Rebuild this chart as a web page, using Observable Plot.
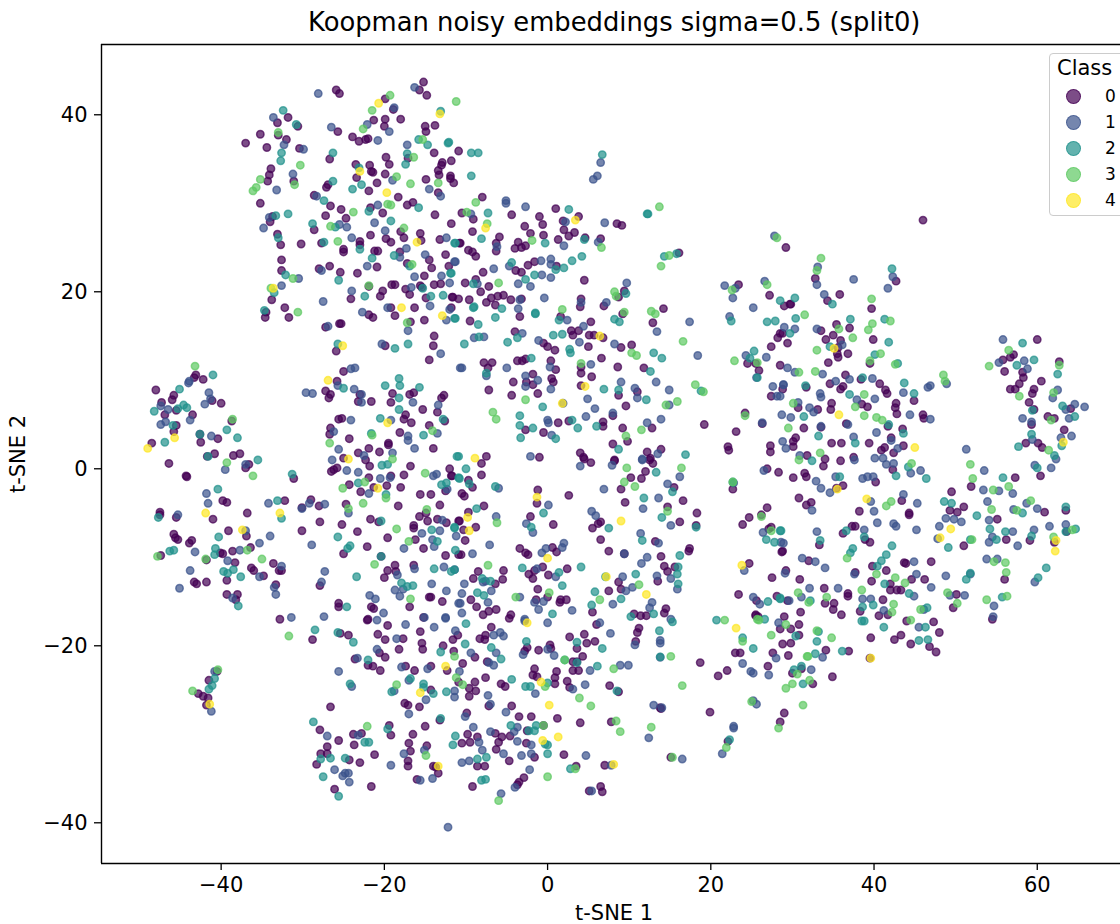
<!DOCTYPE html>
<html><head><meta charset="utf-8">
<script src="https://cdn.jsdelivr.net/npm/d3@7"></script>
<script src="https://cdn.jsdelivr.net/npm/@observablehq/plot@0.6"></script>
<style>
html,body{margin:0;padding:0;background:#fff;overflow:hidden;width:1120px;height:924px}
#root{position:relative;width:1120px;height:924px;overflow:hidden;font-family:"DejaVu Sans",sans-serif;color:#000}
#root svg{position:absolute;left:0;top:0}
.t{position:absolute;white-space:nowrap;line-height:1}
</style></head><body><div id="root"></div>
<script>
const titleText = "Koopman noisy embeddings sigma=0.5 (split0)";
const xLabel = "t-SNE 1", yLabel = "t-SNE 2", legendTitle = "Class";
const classLabels = ["0","1","2","3","4"];
const classColors = ["#440154","#3b528b","#21918c","#5ec962","#fde725"];
const xTicks = [-40,-20,0,20,40,60];
const yTicks = [-40,-20,0,20,40];
const xDomain = [-54.66,70.2];
const yDomain = [-44.6,47.94];

const class0 = [
[-37,36.8],[-35.2,37.8],[-34.4,36.3],[-33.1,39.1],[-31.8,39.7],[-33,37.7],[-30.6,38.7],[-32,37.2],[-30.4,36.2],[-33.9,33.9],[-34.1,33.2],[-34.3,32.5],[-31.1,32.5],[-35.2,30],[-25.9,42.8],[-25.5,42.4],[-25.7,38.1],[-23.9,37.5],[-23.1,37],[-22.3,37.2],[-22,37.3],[-19.9,41.8],[-18.9,40.6],[-21.3,39.4],[-19.9,39.5],[-18,39.5],[-20,38.7],[-15.7,42.8],[-15.2,43.7],[-14.8,42.2],[-15,38.7],[-14.9,38.1],[-13.8,38.8],[-10.9,35.9],[-13.9,35.7],[-19.8,35.2],[-19.4,34.4],[-17.1,35.1],[-26.7,35],[-23.5,34.4],[-21.8,34.3],[-21.6,33.6],[-21.4,33.5],[-23.4,32.9],[-19.9,33.3],[-20.9,32.3],[-14.9,32.7],[-12.9,34.6],[-11.8,34.8],[-13,34.3],[-13.4,33.7],[-13.3,33.2],[-11.9,33.1],[-11.9,32.8],[-11.5,32.3],[-26.9,32.1],[-27.1,31.8],[-21.9,31.4],[-28.6,30.9],[-18.3,30.7],[-13.4,31.2],[-17.2,29.8],[-16.5,30.1],[-26.6,29.7],[-25.3,29.3],[-21.7,29.5],[-20.2,28.9],[-27.2,28.6],[-24.7,28.3],[-13.8,28.7],[-11.8,27.7],[-34,27.9],[-33.7,28.5],[-33.1,26.5],[-32.7,25.3],[-30.2,25.4],[-28.6,27],[-21.7,26.4],[-18,26.8],[-17.6,26.1],[-15.6,26.6],[-15.5,25.8],[-13.2,25.9],[-10.8,25.5],[-19.8,26],[-19.2,25.6],[-27.7,25.5],[-23,25.7],[-23,25.3],[-25,24.8],[-25,24.5],[-21.2,24.6],[-20.8,24.6],[-18.1,24.5],[-12.5,24.2],[-14.5,23.6],[-17.2,23.2],[-14.2,22.7],[-12.1,22.9],[-32.6,23.6],[-32.6,22.4],[-28,22.6],[-26.7,22.9],[-25.4,22.2],[-23.3,22.1],[-20.9,22.8],[-15.1,21.8],[-13.1,20.9],[-13.9,20.8],[-19.1,20.8],[-18.7,20.8],[-15.6,20.7],[-15.4,20.5],[-17.4,20.3],[-21.9,20.6],[-20.2,20.1],[-20.5,19.5],[-16.9,19.7],[-14.9,19.3],[-11.7,19.4],[-10.9,19.2],[-33.8,19.1],[-24.1,19.2],[-34.5,17.7],[-34.6,17.1],[-32.2,18.2],[-31.7,17.1],[-19.2,18.2],[-16.3,18.2],[-21.9,17.4],[-21.4,17.1],[-18.7,17.3],[-16.8,16.6],[-15.1,16.8],[-27.2,16],[-25.5,16.4],[-25.3,16.4],[-13.9,15],
[-8,30.7],[-10.5,28.9],[-9.1,28.2],[-9.2,26.8],[-4.4,28.7],[-1,28.5],[1,29.4],[-0.6,27.6],[-2.8,27.4],[-2.1,26.6],[-0.5,26.4],[1.9,28],[3.8,28.5],[2,27],[3.3,26.7],[2.6,26.3],[1.3,25.9],[4.6,26.1],[6.5,26],[8.5,27.7],[9.1,27.5],[-5.9,26.2],[-6.3,25.5],[-6.3,24.6],[-10.7,25.5],[-3.6,25.6],[-4,24.9],[-3.2,25],[-2.7,25.2],[-9.7,24.7],[-9.2,24.5],[-8.8,24],[-2.4,23],[-1.6,23.4],[-3.9,22.4],[-3.2,22.2],[1.1,22.9],[-7.9,22.2],[-10.1,21],[-8.8,21.4],[-7.2,20.6],[-8.2,20],[-5.4,19.6],[-6.1,19.5],[-6.9,19.3],[-4.5,19.1],[-3.2,19.2],[-11.6,19.4],[-9.6,19.1],[-7.5,18.8],[-6.4,18.5],[-11.8,18.2],[-3.4,17.2],[-9.5,16.7],[4.5,21.3],[4.1,19.2],[4,18.3],[6.9,18.4],[1.6,17.2],[9.4,20.1],[8.7,19.4],[9.2,17.5],[14.2,18.1],[12.9,16.5],[5.3,16.6],[3.8,15.6],[2.9,15.6],[3.1,15.1],[5.1,15.1],[5.7,15.1],[6.8,14.8],[-4,15.5],[-0.5,14.2],[0,13.8],[0.9,13.4],[5,13.8],[10.3,14],[9,13.7],[6.6,12.5],[-7.8,12],[-6.8,12],[-7.3,11.4],[-3.7,12.2],[-3.1,12.2],[-2.7,12.4],[0.4,12.2],[1,11.2],[4.1,11.5],[4.1,10.8],[5.4,10.4],[8.6,11.5],[11.8,11.4],[-1.8,10.7],[-4.2,9.8],[-2.6,9.8],[-1.8,9.5],[0.5,10.2],[0.7,9.8],[4.1,9.4],[-7.2,8.9],[-4.4,8.3],[-1.2,8.5],[8.7,8.3],[11,8.7],[9.6,7.1],[1.3,5.2],[2.6,5.4],[6.8,5.3],[6.8,4.8],[8,6],[-2.7,4.4],[-0.5,4.1],[9.2,4.6],[12.8,4.6],[19.2,5],[8,2.8],[9.8,3.1],[23.1,4.2],[24.2,6.3],[26.3,5.1],[16.1,24.4],[23.4,20.8],[29.2,25],[27.2,19.6],[29,18.4],[29.7,18.6],[28.5,15.3],[28.2,14.8],[27.4,13.8],[24.5,11.9],[25.5,11.9],[25.9,11.1],[28.5,11.7],[27.4,8.2],[28.8,9],[22.1,2.5],[22.2,2.1],[27.3,2.6],[27.3,1.9],[4,1.8],[4.4,1.3],[-1,1.3],[-7.5,1.4],[8.2,1],[12.2,1.9],[13.9,2.2],[12.6,1.2],
[-48,8.9],[-43.1,10.6],[-43.3,10.3],[-42.2,10.1],[-45.8,8.3],[-46,7.8],[-47.3,7.5],[-45.5,6.6],[-46.9,6.1],[-43.5,6.1],[-41.1,7.7],[-40,7.4],[-38.7,5.4],[-45.5,4.9],[-45.8,4.2],[-42.6,3.9],[-42.5,3],[-40.4,3.4],[-48.5,2.9],[-40.8,1.7],[-41.7,1.4],[-38.5,1.5],[-37.7,1.7],[-46.4,0.6],[-44.3,-0.8],[-44.2,-0.9],[-36.6,0.5],[-37,0.1],[-31.1,-1.1],[-39.8,-3.6],[-39.3,-3.8],[-47.5,-4.9],[-47.5,-5.2],[-45.5,-5.5],[-41,-5.7],[-36.8,-5],[-32.2,-3.6],[-30.1,-4.4],[-29,-3.5],[-28,-4.2],[-27.9,-6],[-30.1,-7],[-39.1,-7],[-45.8,-7.4],[-45.6,-7.8],[-45.3,-8],[-43.6,-8.1],[-43.9,-8.4],[-36.9,-7.6],[-36.4,-8.9],[-47.4,-9.8],[-40.1,-9.5],[-39.8,-9.6],[-38.6,-9.3],[-41.8,-10.3],[-38.3,-10.6],[-36.3,-11.2],[-36,-11.5],[-33.6,-10.7],[-32.9,-11.5],[-32.6,-11.5],[-34.8,-12.1],[-39.3,-12.6],[-43.3,-12.8],[-43,-13],[-41.8,-12.8],[-33.3,-13.1],[-27.9,-13.2],[-39.3,-14.2],[-38,-14.2],[-38.2,-14.8],
[-25.9,13.3],[-14,13.9],[-19.9,13.9],[-14.5,12.3],[-25,11],[-25.8,9.9],[-27.2,8.8],[-26.6,8.4],[-26.8,8],[-23,8.4],[-23.2,7.6],[-21.6,7.6],[-19.2,7.5],[-19,8.5],[-16.9,8.4],[-16.4,8.6],[-12.7,8.3],[-13,8],[-15.3,6.7],[-13.5,6.4],[-17.4,6.1],[-17.6,5.6],[-16.7,5.2],[-25.6,5.6],[-25.2,5.7],[-26.6,4.6],[-26.7,3.9],[-24.3,3.4],[-18.1,4.1],[-14.5,4.9],[-12.6,5.4],[-19.5,2.9],[-19.5,2.7],[-23.2,1.8],[-21.9,2.3],[-20.6,1.9],[-14,2.3],[-22.3,1],[-25,1.2],[-21.8,0.3],[-16.8,0.3],[-25.8,0.1],[-26.5,-0.3],[-26.2,-0.1],[-12,0],[-11.8,-0.8],[-19.2,-0.8],[-17.6,-0.7],[-21.9,-1],[-24.3,-1.8],[-22.9,-2.6],[-21.3,-2.1],[-19.7,-1.9],[-18,-2.1],[-15.6,-2.9],[-14.3,-2.9],[-12.5,-2.5],[-18.3,-4.2],[-13.2,-4.1],[-24.7,-4],[-15.7,-5.4],[-14.9,-5],[-14.7,-5.9],[-13.5,-5.7],[-12.4,-6.1],[-10.9,-5.9],[-21.7,-5.7],[-20.7,-6],[-25.2,-6.3],[-16.4,-6.4],[-16.4,-6.7],[-23.3,-7.1],[-19.6,-7.8],[-16.2,-8],[-22.1,-8.8],[-25,-9.6],[-15.2,-9],[-12.5,-9.8],[-10.9,-9.7],[-20.4,-9.9],[-18.7,-10.9],[-16.4,-10.9],[-19.6,-11.5],[-18.6,-11.6],[-20,-12.3],[-14.3,-14.5],[-14.5,-14.5],[-12.9,-15],[-25.6,-15.2],[-25.6,-15.6],[-21.6,-15.6],[-21.3,-15.8],[-16.9,-15.6],[-32.8,-17],[-22,-17],[-15.2,-16.8],
[-41.5,-23.9],[-40.5,-22.9],[-42.8,-25.4],[-42.2,-25.7],[-41.6,-25.9],[-41.8,-26.7],
[-8.1,-0.7],[-8.1,0.6],[-11.7,-0.8],[-9.7,-1.3],[-9.2,-2.1],[-10.5,-2.8],[-10.2,-3.1],[-7.8,-4.2],[-9.7,-4.9],[-10.8,-5.9],[-10.3,-6.9],[-8.8,-6.6],[-10.1,-8.1],[-10.6,-9.7],[-1.2,-2.4],[-1.3,-3.9],[2.6,-3],[-2.1,-5.4],[0.7,-6.3],[-3.4,-9],[-2.7,-9.5],[-2.4,-9.7],[0.6,-8.9],[1.1,-9.4],[-0.6,-11.1],[2.4,-11.3],[-1.6,-11.5],[-2.3,-11.9],[-1.8,-12.4],[0.1,-12],[-5.4,-11.5],[-8.5,-11.6],[-9.1,-12.4],[-5.5,-12.5],[-6.4,-13],[-1.2,-13.6],[-9.4,-14.8],[-8.7,-15.6],[-7.9,-16.5],[-7.2,-16.1],[-6.3,-15.9],[-4.5,-16.5],[-4.7,-16.9],[0,-14.5],[-1.4,-14.8],[1.6,-14.8],[1.5,-15.1],[2.3,-14.8],[5.5,-16.2],[4.5,1.1],[5.3,0.7],[8.2,0.9],[12.5,1],[12.9,0.6],[12,-0.3],[11.5,-1.1],[10.2,-1],[9,-2.3],[15.5,-2.1],[9.5,-3.8],[16.6,-3.6],[14.7,-4.3],[18.3,-5],[16.2,-6],[18.2,-6.4],[6.5,-6],[6.2,-6.2],[5.5,-6.7],[6.5,-8],[13.2,-8.2],[7.5,-9.3],[17.4,-9],[17.3,-9.3],[13.9,-9.9],[9.4,-9.6],[15.6,-11.1],[14.3,-11],[14.7,-11.6],[13.5,-12.7],[8.7,-12.8],[9,-13.6],[7.5,-13.8],[24.7,-10.7],[28.3,-0.4],[26.9,0],[22.7,-2.3],[26.9,-4.4],[24.7,-5.5],[26.2,-5.2],[23.9,-6.3],[27.4,-6.6],[27.1,-6.8],[28.7,-9.4],[27.5,-12.3],[23.4,-14.2],[28.1,-14.4],[25.6,-14.9],[29.4,-14.9],[25.5,-16.5],[14.3,-16.3],[14.5,-15.8],[10.6,-16.4],[11.4,-16.6],[12.1,-16.6],
[-19.6,-17.7],[-20.8,-18.7],[-19.9,-19.3],[-24.4,-18.8],[-25.4,-18.6],[-28.8,-19.3],[-22.1,-17.1],[-17.7,-19.2],[-15.6,-18.4],[-15.4,-19.7],[-15.3,-20.4],[-18.2,-20.4],[-20.6,-20.8],[-19.9,-21.3],[-23.6,-21.5],[-22,-22.2],[-21.4,-22.3],[-20.5,-22.8],[-17.4,-22.3],[-16.3,-22.8],[-14.3,-22.3],[-12.8,-20],[-11.6,-19.3],[-11,-18.8],[-11.5,-20.6],[-8.3,-19.2],[-7.7,-19.3],[-7.6,-18.8],[-6.9,-17.9],[-2.5,-20.2],[-2.8,-20.6],[-1.1,-20.5],[0.3,-19.9],[0.4,-20.3],[2.7,-19],[4.5,-18.7],[3.6,-20.3],[4.8,-19.7],[5.8,-19.5],[6,-17.6],[4.3,-21.2],[3.1,-21.8],[3.6,-21.8],[3.1,-22.8],[3.8,-22.8],[-8.9,-21.3],[-10.4,-22],[-7.4,-21.8],[-12.3,-22.8],[-7.6,-23.6],[-8.9,-24.1],[-8.8,-25.1],[-9.6,-24.8],[-9.6,-25.7],[-10.9,-24.1],[-5.7,-24.3],[-5.2,-24.6],[-1.6,-22.6],[-1.8,-23.3],[-1.3,-23.5],[1.1,-22.9],[0.9,-23.6],[0.9,-24.3],[2.4,-24],[2.7,-24.7],[7.6,-24.5],[8.7,-25.2],[-14.3,-25],[-17.5,-26.5],[-17.1,-26.7],[-15.7,-26.9],[-26.6,-26.9],[-7.2,-26.8],[-4.4,-26.8],[-9.9,-27.6],[-3.5,-28],[-2,-28],[1.2,-28.2],[4,-28.7],[7.8,-28.6],[-13.2,-28.4],[-15,-29.1],[-19.4,-29],[-19.2,-30.1],[-27.9,-29.5],[-22.8,-29.9],[-23.8,-30],[-25.6,-30.7],[-23.7,-31.2],[-27,-31.4],[-27,-32.2],[-27.8,-32.2],[-28.3,-33.4],[-21.2,-32.3],[-24.3,-32.9],[-23,-33.2],[-17,-31],[-16.5,-30],[-16.8,-31.9],[-14.8,-31.3],[-17.1,-33],[-17.1,-33.6],[-14,-33.6],[-13.7,-33.7],[-13.4,-34.4],[-16,-35.1],[-21.6,-35.9],[-26.1,-36.2],[-9.2,-35.9],[-10.5,-31],[-9.8,-30],[-9.5,-30.9],[-8.6,-30.3],[-6.4,-29.9],[-5.6,-30.3],[-4.6,-30.2],[-6,-30.9],[-6.3,-31.7],[-2.6,-31],[-2.5,-29.6],[-0.5,-29],[2,-32.3],[-1.6,-32.6],[-4.7,-33],[-8.6,-33.6],[-7.7,-33.6],[3.5,-33.6],[7,-33.5],[-2.9,-34.9],[-3.5,-35.4],[-3.7,-35.7],[6.5,-35.9],[6.7,-36.5],[5.1,-36.4],
[11.2,-18],[11,-18.5],[10.8,-19.5],[18.7,-21.9],[22,-22.8],[20.9,-23.4],[23,-20.8],[23.6,-20.8],[25.5,-16.6],[25.8,-16.7],[28.5,-18.1],[27.6,-20.8],[27,-22.3],[30,-23.1],[31.1,-22.6],[32.5,-24.3],[34.9,-23.5],[13.8,-27],[13.9,-27.1],[19.9,-27.5],[29,-27.6],[28.5,-28.6],[15.1,-32.6],[22.1,-30.8],
[33.5,15.6],[35.4,16.3],[37,15.9],[35,15.1],[34.1,14.6],[39.9,14.6],[29.4,14.2],[28.8,15.3],[35.9,14.5],[35.6,13.7],[35.5,13],[35.6,12.6],[36.8,13],[34.4,12],[39.5,11.9],[36.5,10.6],[34.6,9.6],[38.4,10.1],[35.9,9],[36.2,9.3],[31.7,9.2],[40.7,9.6],[41.4,8.9],[41.6,8.5],[44.9,7.7],[42.7,7.4],[42.6,6.9],[42.8,6.2],[46,6.1],[46.1,5.7],[34.8,7.4],[34.7,6.7],[33.1,6.7],[30.7,6.9],[38.5,7.3],[39.2,7],[36.6,5.1],[31.4,4.6],[33.5,4.7],[41.7,4.8],[43.5,4.5],[42.1,3.5],[30.4,3.5],[30.1,3.1],[30.1,2.5],[34.8,2.9],[36,2.9],[39.4,2.9],[41.3,2.4],[40.9,2.1],[43.6,2.6],[42.4,1.8],[31.8,1.5],[34,1.1],[33.8,0.3],[35.9,0.9],[37.5,1.3],[42.3,-0.1],[31.5,-0.5],[31.7,-0.9],[30.1,-1],[40.2,-1.5],[36.2,-1.9],[35.4,-2.2],[30.8,-3.3],[32.3,-3.8],[31.7,-4.1],[43.4,-3.6],[38.2,-4.8],[44.3,-5],[44.3,-5.2],[37.3,-6.5],[37.7,-6.5],[36.2,-7.3],[38.9,-8],[39.5,-8.3],[33.3,-8.6],[28.8,-9.3],[32,-10.4],[29.2,-11.5],[30.9,-12.5],[33.9,-13.5],[39.7,-12.7],[39.8,-11],[37.7,-11.7],[41.5,-11.5],[43.7,-10.6],[43.9,-10.7],[47,-10.5],[44.6,-12.5],[46.2,-12.5],[42,-13],[42,-13.7],[42.8,-13.7],[43.3,-13.7],[36.8,-14.1],[36.8,-14.4],[41.1,-14.8],[50.1,-14.2],[49.7,-15.7],[35.1,-15.2],[34,-15.2],[35,-15.9],[36,-16.5],[38.3,-16.1],[40.6,-16.6],[41.7,-16.5],[44,-17.2],[47.3,-17.3],[31,-16.2],[29,-16.7],[30.8,-17.6],[29.8,-18.1],[30.8,-18.8],[29.8,-19.7],[28.8,-19.8],[34.1,-20.5],[29.5,-21.1],[36.9,-20.6],[39.6,-19.1],[39.5,-21.4],[42.5,-19.3],[43.3,-18.8],[44.5,-19.8],[46.8,-20.1],[47.6,-20.7],[48,-18.5],[54.5,-17],[56,-12.5],
[60,14.6],[57.1,12.9],[56.7,12.6],[55.8,12.3],[56,11],[58.2,10.9],[58.3,10.3],[57.8,9.6],[57.3,9],[56.7,9],[60.5,9.9],[59.6,9],[59.4,8.5],[62.7,12.1],[59,7.5],[59.6,6.7],[64.1,6.8],[61.3,5.9],[62.1,5.7],[59.3,5],[63.3,4.4],[58.6,2.9],[60.1,2.9],[60.6,2.4],[60.4,-0.8],[57.3,-1],[51.9,-2],[49.5,-2.6],[51,-4.3],[49.3,-4.7],[50.2,-4.9],[55.1,-5.7],[60.9,-4.9],[63.5,-4.7],[63.6,-7.1],[56.2,-8],[59.1,-8.1],[62.1,-8.3],[51,-8.7],
[46,28.1],[32.8,21.5],[34.3,19],[35.8,19.7],[42.7,21.2],[39.7,18.1],[29.8,18.6]
];
const class1 = [
[-28.1,42.4],[-16.3,43.1],[-18.8,40.8],[-33.6,39.7],[-26.5,38.6],[-22.1,38.9],[-19.4,38.1],[-20.8,37.1],[-17.2,36.6],[-32.3,36.6],[-29.9,36.1],[-31.2,33.3],[-19,32.6],[-33.2,31.5],[-14.5,31.6],[-13.1,30.8],[-28.3,30.8],[-20.8,29.8],[-25.5,27.6],[-24.6,27.3],[-21.2,27.8],[-34.1,28.4],[-34.8,27.2],[-24,26.1],[-19.9,26.9],[-12.4,26.1],[-17.3,24.9],[-15,24.2],[-18.1,23.9],[-11.3,23.4],[-27.7,22.4],[-22.1,22.9],[-16.3,21.7],[-13,21.8],[-12,21],[-30.5,21.5],[-32.6,20.7],[-24,20.1],[-16.7,20.5],[-27.5,18.9],[-14.4,18.4],[-19.6,18.2],[-22.7,17.7],[-12,18],[-12.4,16.8],[-26.9,16.1],[-17.1,15.6],
[6.5,34.6],[6.1,33.1],[5.6,32.7],[-5.1,30.3],
[-5.1,30],[-2.7,29.6],[-9.4,28.8],[2.2,27.9],[7,27.8],[2,25.2],[6.2,25.6],[-6.2,25.1],[-11.4,23.4],[-4.7,22.9],[-6.6,22.6],[-0.8,23.5],[0.4,23.7],[0.4,23.1],[-0.7,21.9],[0.4,21.6],[-3.6,20.9],[-2.1,20.6],[-8.6,20.9],[-0.4,19.3],[-3.4,19.1],[-3.6,18.1],[9.7,21],[7.2,18.8],[4.1,18.8],[2.4,16.8],[4.4,16.1],[17.4,16.6],[22.3,17.2],[13.4,15.5],[-9,14.8],[-7.8,14.9],[-3.1,15.3],[-1.1,14.5],[3.9,14.3],[8.2,14.1],[-10.5,11.4],[-5,11.4],[-7.5,10.5],[-2.7,10.5],[0.3,11.5],[-1.2,10],[5.3,11.8],[-2.7,9.3],[0.4,9],[9,9.8],[10.7,9.1],[11,8],[13.3,9.8],[14.9,8.9],[14.9,7.2],[18.4,12.8],[21.7,20.7],[23,20.4],[22.7,19.3],[25.2,18.2],[26.6,21.2],[27.8,26.3],[29,16],[24.3,12.8],[26.8,12.6],[25.6,10.3],[27.6,9.3],[28.9,9.5],[28.1,8.2],[28.5,8.2],[4.9,7.9],[1.9,7.4],[5.8,6.8],[8,6.3],[4.7,5.9],[0,5.5],[0.1,5.2],[12.2,5.2],[13.9,5.6],[0.5,3.8],[-2.1,1.4],[11.6,1.1],[13.5,1.7],[26.3,5.2],
[-43.9,9.9],[-44,9.7],[-41.5,8.6],[-41.3,7.9],[-42,7.3],[-47.4,7.1],[-46.5,6.7],[-46.8,5.3],[-47.4,5],[-43.8,5.5],[-41.2,3.7],[-39.5,-0.1],[-37,0.5],[-41.8,-2.8],[-41.6,-3.9],[-45.3,-5.2],[-34.2,-3.9],[-30.1,-4.5],[-29.2,-3.9],[-27.3,-4],[-37,-7],[-34,-7.6],[-35.3,-8.4],[-37.7,-9.2],[-43.2,-9.4],[-28.9,-8.6],[-39.2,-10.4],[-32.6,-11],[-35.3,-12.2],[-27.3,-11.6],[-27.7,-12.8],[-45.1,-13.5],[-43.8,-11.5],[-33.5,-13.4],[-33.3,-14.2],[-38.6,-14.6],[-31.4,-16.8],[-27.4,-16.7],[-20.1,-16.3],
[-20.3,14.1],[-13.1,13],[-10.7,11.4],[-24.1,11.3],[-23.6,11.4],[-29.6,8.6],[-28.8,8.5],[-25.7,9.4],[-23.7,9],[-22.8,8.4],[-22.8,7.5],[-16.5,7.5],[-13.4,7.2],[-24.1,5.5],[-19.2,5.5],[-26.2,4.2],[-13.5,4],[-17.1,3.7],[-17.1,3.2],[-16.3,2.3],[-25.6,2.2],[-19,1.8],[-22.5,1.5],[-26.4,1],[-24.6,-0.2],[-23.2,-0.4],[-20.5,-1.1],[-19.3,-1],[-14,-0.8],[-13.6,-0.6],[-12.3,-2.3],[-21.9,-2.8],[-24.4,-5],[-12.9,-5.8],[-13.2,-7],[-15.4,-7.3],[-14.1,-8],[-13.9,-8.8],[-17.6,-9],[-16.3,-11.3],[-12.7,-11.1],[-18.4,-12],[-14.2,-13],[-18.7,-13.7],[-17.7,-13.6],[-18.1,-14.4],[-21.8,-14.3],[-21.1,-14.7],[-12.4,-13.8],[-10.9,-15.2],[-12.5,-16.8],[-15.1,-16.8],
[-40.8,-22.9],[-41.2,-27.4],
[-6,-2.2],[-6.3,-5.4],[-11.2,-7.6],[-2.6,-6.2],[-1.8,-7.2],[0.1,-4.1],[-7.1,-8.6],[-9.2,-9.6],[-10.2,-13],[-10.5,-14.1],[-10.7,-15.2],[-10.5,-16.3],[-11.4,-11.4],[-7.9,-12.8],[-7.6,-12.7],[-6.9,-13.8],[-7.3,-15.1],[-3.4,-14.5],[-1.6,-15.1],[-1.1,-15.9],[-0.2,-9],[-0.7,-9.5],[1.8,-8.9],[2,-8.4],[-1.3,-11.3],[1,-12.2],[-0.5,-15],[3,-16],[4,0.3],[7.9,0.4],[11.6,1],[16.2,-0.9],[14.7,-1.7],[6.9,-2.3],[13.6,-3.3],[11.7,-4.5],[5.4,-4.8],[5.9,-5.3],[15.1,-6.4],[11.4,-7.3],[13.6,-8.4],[9.4,-9.6],[12.2,-10],[11.5,-10.7],[9.2,-12.2],[13.4,-12.1],[15.1,-12.4],[15.9,-13.6],[10.4,-13.4],[9.6,-13.8],[8,-15.3],[12.8,-15.1],[12.5,-15.7],[15.1,-17],[22.8,-1.6],[26.5,-0.2],[26.4,-7.2],[28.6,-8.3],[24.1,-11.5],[25.2,-14.5],[26,-15.3],[-2.8,-17],
[-17.4,-17.6],[-13.9,-17.9],[-12.5,-16.9],[-20.9,-17.1],[-18.5,-19.2],[-11.3,-18.3],[-6.6,-18.8],[-5.8,-18.5],[-5.4,-18.9],[0,-17.4],[-2.8,-17.2],[6.4,-17.4],[7.7,-18.6],[-20.9,-20.4],[-23.3,-21.4],[-25.6,-22.9],[-24,-24.6],[-17.9,-22.4],[-14.7,-22.6],[-9.4,-20.8],[-10.8,-22.9],[-6.3,-20.8],[-7.2,-21.9],[-6.6,-22.2],[-3,-21],[0,-20.4],[0.8,-21.1],[3.1,-24.9],[5.2,-22.8],[4.6,-24.4],[-1.5,-25.4],[8.9,-22.2],[-17,-23.9],[-18.8,-25.1],[-14.9,-26.1],[-11.4,-25.1],[-11.4,-25.8],[-7.3,-25.6],[-7,-26.6],[-17,-27.7],[-10.1,-28],[-5.1,-27.5],[-9.1,-29.2],[-7,-29.7],[-3.7,-29.2],[-4.1,-29.7],[-23.2,-30.1],[-27,-30.2],[-8.4,-30.9],[-3.7,-30.8],[-8,-31.8],[-2,-31.2],[-5.4,-32.2],[-3.2,-32.4],[-2,-32.2],[-15.1,-31.8],[-17.6,-32.2],[-19.2,-33.5],[-10.5,-33.2],[-9.6,-33],[-26.1,-34],[-25.1,-34.7],[-24.8,-34.4],[-24.4,-34.4],[-24.3,-35.4],[-15.6,-35.2],[-14.1,-35],[-2.2,-34],[-4,-36],[4.7,-32.4],[7.8,-33.5],[5.4,-36.4],[-5.7,-36.7],[-12.2,-40.5],
[13.8,-19.4],[13.8,-19.7],[10.7,-19.9],[13.8,-21.3],[9.9,-22.2],[23.9,-22],[24.9,-22.9],[25.2,-23.1],[27.1,-23.3],[28,-21.4],[28.3,-17.4],[32.3,-22.7],[13,-26.7],[14,-27],[25.2,-26.2],[25.6,-26.6],[22.8,-29.1],[22.8,-29.3],[12.4,-30.4],[21.4,-32.2],[16.5,-32.8],
[30.3,15.8],[33,15.8],[36.1,14],[29.4,11.4],[30.3,10.9],[33.7,10.7],[28.9,9.5],[35.3,9.9],[37,10.1],[39.8,10.2],[33.4,8.5],[33.5,8.1],[37.9,7.8],[40.1,7.9],[43.6,8.6],[46.6,9.2],[46.9,9.4],[48.9,9.6],[30.7,7.5],[32.1,6.9],[32.6,6.4],[28.7,6.1],[29.8,5.8],[33.5,4.8],[36.8,5],[44.4,6.1],[46.9,5.6],[40.3,4.1],[37.5,3.6],[42.1,3.2],[28.8,3.1],[29.2,2.3],[30.9,1.5],[42.9,2.3],[37.6,1],[40.1,1.2],[41.1,1.2],[41.5,0.5],[42.4,0.6],[44.5,-0.5],[45.7,-0.2],[32.9,-1.4],[33.5,-2.2],[34.6,-2.7],[35.3,-0.9],[38.6,-1.1],[39.2,-0.9],[39.9,-0.9],[43.6,-2.9],[45.3,-3.9],[39.6,-3.7],[32.4,-4.7],[40,-4.8],[40.4,-6.1],[42.4,-6.2],[42.7,-6.5],[45.2,-6.9],[38.8,-6.9],[33,-7.1],[28.9,-8.4],[31.2,-10.1],[32.8,-10.5],[34,-11.2],[29.1,-11.8],[37.6,-11.9],[44.9,-10.5],[45.2,-11.9],[47,-13.4],[44.9,-14.4],[32.1,-13.5],[35.6,-13.5],[31.1,-14.5],[38.6,-14.7],[39.6,-14.7],[29.6,-14.9],[41.2,-16],[46.1,-15.9],[45.5,-17.9],[33.7,-21.3],[51.3,2.2],[53.5,-0.2],[53.4,-2.4],[55.3,-2.5],[57,-2.8],[53.9,-3.7],[48.8,-5.6],[49.8,-5.7],[50.7,-6],[48,-6.5],[47.8,-7.9],[54.1,-5.8],[54.5,-7.7],[54.1,-8.3],[57,-7.1],[57.6,-8.7],[58.7,-3.9],[57.1,-4.6],[60,-4.5],[61.5,-6.5],[63.5,-6.3],[59.6,-6.9],[53.8,-10.2],[55.1,-10.2],[48.8,-12.1],[51.8,-11.9],[51.1,-14.3],[49.3,-14.3],[54.7,-15.5],[54.6,-16.7],[59.7,-12.8],[55.8,14.6],[58.4,12.2],[55.3,12],[58.8,11.3],[62.5,8.9],[61.9,8],[64.6,7.3],[65.8,7],[63.5,6.7],[63.9,5.7],[58.2,5.7],[59.3,5.3],[59.4,3.3],[62.9,3.5],[64.2,3.7],[61.7,0.1],[59.7,0.4],[62.3,1.1],
[33.1,22.8],[33,20.8],[33.9,19.7],[37.5,21.4],[42.3,21.7],[41.7,20.4]
];
const class2 = [
[-32.4,40.5],[-30.8,38.9],[-32.6,35.7],[-32.7,34.8],[-26.3,35.7],[-23.1,34],[-26.3,32.5],[-23.9,31.6],[-22.8,32.1],[-27.4,30.3],[-13.1,40.4],[-15.8,37.2],[-14.7,36.6],[-12.1,36.9],[-17.2,35.6],[-17.4,34.4],[-15.8,29.5],[-21.9,29.1],[-33.3,28.6],[-31.8,28.8],[-28.8,27.7],[-26,27.3],[-19.2,28],[-33,26.1],[-27.4,25.6],[-23,24.8],[-21.5,23.8],[-18.8,24.1],[-16.9,22.9],[-11.3,25.5],[-11.9,22.1],[-32.1,21.9],[-25.6,21.3],[-33.5,19.9],[-22.4,19.5],[-15.3,20.4],[-14.3,19.5],[-12.8,19.6],[-34.7,17.9],[-11.3,17],
[-9.35,35.7],[-8.5,35.7],[-9.35,33.1],[6.7,35.5],[-12.2,36.8],
[-7.3,28.9],[2.6,29.3],[12.2,28.8],[12.3,28.8],[-11.4,25.5],[-8.1,26],[-0.3,25.5],[4.5,25.9],[4.2,24],[3,23.5],[2,22.7],[1,22.5],[-1.6,21.9],[-4.4,23.3],[-2.7,21.4],[-11.8,22.1],[-9.1,20.9],[-9,18.3],[-9.1,18.2],[-5.6,18.1],[-6.4,17.1],[-11.4,17],[-8.5,16.3],[-1.5,17.6],[-1.5,17.5],[1.4,16.8],[8.2,16.9],[8.8,16.6],[9.6,19.8],[14.3,24],[15.8,24.3],[1.8,15.2],[0.7,15.1],[-3.7,14.8],[-4.9,14.3],[-10.2,14.1],[-8.4,14.9],[2.7,13.5],[2.8,13.1],[-2,12.5],[-7.5,10.8],[13,13.1],[14,12.5],[12.6,11],[8.7,8.9],[12.1,7.8],[-0.6,7],[-3.4,6],[-3.4,4.9],[-1.8,4.6],[-3.3,3.5],[1,3.4],[3,5.5],[3.7,4.6],[6,4.8],[8.7,2.2],[16.9,1.6],[22.5,16.7],[26.9,16.6],[27.9,16.7],[28.5,19],[25.3,13.3],[24.8,12.5],[25.7,10.3],[-10.9,1.4],[6.9,9],[18.8,8.8],
[-41,10.6],[-45.1,9],[-48.2,6.5],[-45.3,6.8],[-44.6,7.2],[-44.2,6.9],[-45.9,4.9],[-42.6,3.9],[-39.3,4.4],[-38,3.5],[-46.9,3],[-41.6,1.4],[-35.5,1],[-31.3,-0.6],[-40.4,-2.3],[-33.1,-3.6],[-32.6,-5.6],[-47.7,-5.5],[-40.3,-7.7],[-46.3,-9.3],[-45.8,-9.2],[-40.7,-9],[-40.8,-9.7],[-39.7,-11.6],[-39.2,-11.8],[-38.5,-11.4],[-37.6,-12.2],[-37.9,-15.5],
[-25.7,14.1],[-18.7,13.6],[-17.1,14.1],[-18.2,10.2],[-18.1,9.4],[-19.9,9.4],[-15.7,9.2],[-25,9.1],[-18.2,8],[-18.2,6.7],[-20.5,5.7],[-12.8,5.6],[-21.6,4],[-15.2,3.8],[-20.3,0.4],[-19.6,0.5],[-11.1,1.4],[-23.2,-1.6],[-13,-1.8],[-12.4,-1.6],[-10.9,-1],[-19.8,-2.9],[-25.7,-7.7],[-24.2,-8.7],[-24.5,-9],[-20.4,-5.9],[-14.2,-6.9],[-13.5,-8.2],[-11.4,-6.6],[-11.3,-9.2],[-20.4,-9.9],[-23.4,-12.2],[-17.9,-12.9],[-17.2,-13.3],[-16.5,-13.2],[-13.9,-11.3],[-11.8,-11.6],[-11.4,-11.4],[-24.6,-15.6],
[-40.8,-23.7],[-41.1,-24.5],[-41.5,-24.9],
[-10,0],[-10.8,-1.1],[-9.6,-1.7],[-6.4,-2],[-8.7,-4.5],[-11.4,-6.7],[-0.5,-5],[-2,-6.6],[-8,-12.4],[-7,-12.7],[-8.6,-14],[-7.8,-14.3],[-3.1,-11.2],[1.4,-11.7],[1.8,-13.2],[4.1,-11.1],[0.6,-16.4],[10.2,-16.7],[13,-16.4],[13.3,-0.4],[15.3,-2.6],[11.8,-3.3],[14,-5.5],[7.5,-6.7],[11.6,-8.1],[16.2,-9.8],[16,-11.1],[15.9,-11.9],[10.8,-11.9],[7.1,-12.2],[16,-13],[5.8,-13.9],[9,-14.7],[5.4,-15.4],[18.2,-6.6],[22.7,-1.5],[28.5,-7],[26.8,-8],[27.8,-8.3],[27,-15],[28.5,-14.7],[20.7,-17.1],
[-28.5,-18.2],[-25.7,-18.5],[-23.8,-19.6],[-22,-21.6],[-10,-17.5],[-13.1,-20.7],[-10.1,-19.8],[-6.9,-20.2],[-5.7,-21.5],[-2.6,-19.5],[3.6,-19.6],[6.7,-20.3],[3.6,-21.9],[2.1,-21.6],[6.1,-22.3],[-4.4,-23.8],[-2.7,-24.6],[-2.1,-24.6],[0,-24.2],[-24.2,-24.3],[-16.8,-23.7],[-19.1,-25.2],[-15.2,-24.3],[-15.2,-24.7],[-14,-25.4],[-12.4,-25.2],[-28.7,-28.6],[-13.1,-28.2],[-4.5,-29],[-1.4,-29],[-2.3,-29.6],[-1.6,-29.6],[-19.6,-29.4],[-22.4,-30.9],[-21.9,-30.9],[-11.3,-30.2],[-11.6,-31.2],[-0.3,-31.1],[0,-31.2],[0,-32.2],[-8.6,-32.8],[-7.5,-32.6],[-24.8,-32.7],[-26.6,-32.7],[-27.8,-32.8],[-27.5,-34.8],[-25.6,-37],[-8.1,-35.2],[-7.6,-35.1],[2.8,-33.9],
[15.3,-17.3],[13.7,-18.3],[13.8,-21.25],[23.9,-19.1],[25.2,-20.3],[26.6,-17],[30.2,-22.7],[31.1,-22.3],[31.3,-24.3],[8.5,-25.1],[22.3,-30.6],
[29.7,15.3],[34.6,13.8],[41.8,14.3],[40.1,12.9],[42.9,11.9],[38.6,10.3],[31.6,9.4],[43.7,9.7],[37,8.4],[44.9,8.5],[31.4,5.9],[33.2,3.7],[37.7,2.9],[43.6,4],[41.8,5],[32.4,0.9],[44.2,0.2],[42.7,-0.8],[46.4,-1.1],[35.8,-0.9],[28.6,-7],[36.6,-7],[33.4,-8.1],[38.8,-7.7],[37.4,-9],[37.1,-9.5],[42.2,-8.7],[41.5,-9.7],[40.9,-10.4],[40.4,-11],[51.3,-12.5],[51.8,-11.8],[41.3,-13],[44.3,-14.1],[28.5,-14.6],[32.2,-14.9],[38.6,-15.6],[39.9,-15.4],[46.5,-15.7],[38.5,-17.2],[38.8,-17.2],[41.2,-17.9],[46.3,-17.9],[33.2,-18.4],[30.4,-18.9],[33,-19.5],[45.5,-19.4],[46.6,-19.3],[32.8,-20.9],[36.1,-20.6],[58.2,14.2],[59.6,12.3],[57.5,11.7],[62.5,10.7],[63.1,7.1],[59.4,6.6],[64.6,5.9],[59.3,3.9],[63,2.6],[57.7,2.5],[62.1,1.5],[60,0.1],[55.8,-1],[48.6,-3.7],[49.5,-3.9],[52.6,-5.3],[58.2,-5],[63.5,-4.3],[54.2,-6.8],[56.1,-7.1],[55,-8],[51.8,-8],[49.1,-8.9],[59.3,-7.6],[64.7,-6.8],[61.1,-11.2],[60.1,-12.3],[55.7,-14.5],[63.5,-7.1],
[42.2,22.6],[34.9,18.6],[30.3,19.3],[30.4,17],[37.1,16.9],[41.3,16.9]
];
const class3 = [
[-19.3,42.2],[-21.5,40.5],[-11.2,41.5],[-22.6,38.4],[-33,38],[-15.3,37.2],[-30.3,34.3],[-16.4,35.2],[-35.2,32.7],[-35.7,31.8],[-36.1,31.4],[-31,32.1],[-18.5,33],[-16.8,32.2],[-13.4,32.3],[-19.6,29.9],[-19.2,29.8],[-23.8,29],[-26.6,27.4],[-17.6,27.2],[-25.7,25.7],[-16.6,23.1],[-31.2,21.5],[-33.9,20.4],[-21.9,20.7],[-30.6,17.7],[-17.2,16.5],
[-8.8,30.1],[13.7,29.6],[-9.9,29],[-7.4,27.7],[-1.9,25.8],[6.6,25],[14.9,24.1],[13.9,22.9],[-6,21],[8.2,20],[8.4,19.5],[1.8,18],[9.4,17.7],[12.7,17.8],[13.2,17.5],[16.6,14.4],[10.3,13.1],[10.9,12.8],[4.1,11.9],[22.9,12.2],[25.7,12],[18.1,9.5],[19.1,8.7],[-2.7,7.8],[14.5,7.2],[15.9,7.6],[-6.7,6.4],[-6.3,5.6],[11.5,4.4],[9.6,3.7],[24.2,6],[22.6,20.2],[26.9,20.8],[28.1,26.1],
[-43.2,11.6],[-38.6,5.6],[-39.3,0.7],[-36.1,-0.8],[-47.8,-9.9],[-36.8,-9.2],[-35,-10.2],[-41.9,-10.2],[-26.7,2.9],[-21.5,3.8],[-19,1.1],[-14.1,4.3],[-15,-0.5],[-25.1,-2.2],[-22.4,-1.5],[-19.8,-3.3],[-22.6,-3.9],[-24.4,-4.5],[-14.8,-4.6],[-18.5,-6.8],[-17,-8.2],[-21.2,-10.8],[-16.8,-14.7],
[-40.4,-22.7],[-43.5,-25.1],
[-6.2,-6.1],[-7.3,-10.9],[0.2,-14],[-3.9,-14.5],[9.7,0.1],[16.4,0.1],[9.4,-1.5],[10.7,-2],[14.7,-4.8],[11.2,-13.1],[6.4,-14.8],[22.7,-1.5],[26.2,-5.4],[27.4,-7],[21.7,-17.1],[25.7,-17],
[-31.7,-18.9],[-11.4,-21.2],[2.1,-21.6],[8.1,-22.6],[-18.5,-24.4],[-11.2,-23.6],[-10.4,-24.4],[-0.3,-24.6],[3.9,-25.9],[5.3,-26.8],[-22.1,-29.1],[8.4,-28.5],[8.9,-29.7],[-0.5,-29],[-14.9,-32.4],[3.4,-33.9],[0,-34.8],[-6,-37.5],
[25.9,-17.1],[27.4,-18.8],[23.9,-19.5],[31.9,-21.2],[30.6,-23.2],[32.1,-23.9],[30,-24.3],[29.2,-24.8],[15.1,-21.2],[16.5,-24.5],[25,-26.3],[31.3,-26.7],[28.3,-29.3],[12.7,-29.2],[21.9,-31.5],[15.3,-32.6],
[35.7,15.8],[39.3,15.7],[39.8,16.4],[37.4,14.8],[33,13.4],[40.8,13],[39.5,12.2],[42.6,11.8],[30.8,10.9],[32.8,11],[48.5,10.6],[48.7,9.9],[38.8,8.4],[30.1,7.4],[37.7,7],[38.8,6],[40.3,5.8],[41,5.5],[29.5,4.6],[33.4,1.8],[30.8,1],[44.6,0.6],[42.1,-3.7],[41.5,-4.2],[36.7,-10.1],[40.3,-11.9],[42.6,-12.3],[43.8,-12.9],[38.5,-13.7],[30.7,-14],[32,-15.1],[34.2,-14.5],[42.4,-15.3],[42.2,-16.2],[45.7,-15.9],[44.5,-17.1],[29.2,-17.6],[33,-18.3],[34.8,-19.1],[31.8,-21.2],[54.1,11.6],[56.5,13.4],[57.8,8.2],[62,8.6],[62.7,11.7],[61.7,5.5],[61.4,2.1],[51.8,0.5],[52.1,-1.1],[54.6,-2.4],[56.5,-2],[59.2,-3.6],[54.4,-4.6],[57.5,-4.7],[64.3,-6.9],[62,-7.7],[52,-8],[54.7,-10.5],[56.1,-10.6],[56.2,-11.7],[49,-14],[50.2,-15.2],[53.8,-14.8],[56.3,-14.4],
[33.5,23.8],[33,22.4],[39.7,19.2],[31.5,17.4],[42,16.7]
];
const class4 = [
[-20.7,41.3],[-13.2,40.1],[-23,33.6],[-19.7,31.2],[-16,25.6],[-33.6,20.4],[-17.9,18.2],[-12.9,17.3],
[-7.6,27.2],[3.4,28.1],[6.4,15],[4.6,9.3],[1.8,7.4],[-8.9,1.2],
[-49,2.3],[-45.7,3.5],[-41.9,-5],[-37.4,-6.9],[-32.8,-5],[-26.9,10],[-25.1,13.9],[-19.6,5.2],[-24.4,1.1],[-20.8,-2.2],
[-41.4,-26.6],
[-9.8,-5.5],[-9.6,-7],[-1.3,-3.2],[9,-5.9],[0,-10.1],[7.2,-12.2],[12.1,-14.2],[23.8,-10.9],
[-2.5,-17.4],[-12.5,-22.3],[-15.6,-25.3],[-0.8,-24.1],[0.2,-26.7],[1.3,-30.3],[-0.6,-30.7],[-13.4,-33.6],[8.1,-33.4],
[23.1,-18],[39.6,-21.4],
[35.7,6.1],[35.1,13.6],[45,2.4],[35.5,-2.3],[39.1,-3.4],[63.2,3],[49.4,-6.8],[48.1,-7.8],[62.3,-8.1],[62.2,-9.3]
];
const seriesList = [class0,class1,class2,class3,class4];
const points = seriesList.flatMap((s,c)=>s.map(([x,y])=>({x,y,c:classLabels[c]})));

const minus = d => (d<0 ? "\u2212"+(-d) : String(d));
const svg = Plot.plot({
  width:1120, height:924, marginLeft:101, marginRight:0, marginTop:44, marginBottom:61,
  style:{background:"#fff",fontFamily:"DejaVu Sans",color:"#000"},
  x:{domain:xDomain}, y:{domain:yDomain},
  color:{domain:classLabels,range:classColors},
  marks:[
    Plot.dot(points,{x:"x",y:"y",fill:"c",stroke:"c",r:3.7,strokeWidth:1.5,fillOpacity:0.7,strokeOpacity:0.7}),
    Plot.ruleX([xDomain[0]],{stroke:"#000",strokeWidth:1.4}),
    Plot.ruleY([yDomain[0],yDomain[1]],{stroke:"#000",strokeWidth:1.4}),
    Plot.axisX({ticks:xTicks,tickFormat:minus,tickSize:7,tickPadding:7,fontSize:21,label:null,stroke:"#000",strokeWidth:1.3,fill:"#000"}),
    Plot.axisY({ticks:yTicks,tickFormat:minus,tickSize:7,tickPadding:7,fontSize:21,label:null,stroke:"#000",strokeWidth:1.3,fill:"#000"})
  ]
});
const root = d3.select("#root");
root.node().appendChild(svg);
const text = (s,left,top,size,extra)=>root.append("div").attr("class","t").attr("style",`left:${left}px;top:${top}px;font-size:${size}px;${extra||""}`).text(s);
text(titleText,308,10,25.8);
text(xLabel,575,903,21);
text(yLabel,18,454,21,"transform:translate(-50%,-50%) rotate(-90deg)");
// legend
root.append("div").attr("style","position:absolute;left:1048.5px;top:52.5px;width:90px;height:163px;box-sizing:border-box;border:1.4px solid #ccc;border-radius:4px;background:rgba(255,255,255,.8)");
text(legendTitle,1057,58,21);
classLabels.forEach((lab,i)=>{
  const cy=96+i*26;
  const col=d3.color(classColors[i]); col.opacity=0.7;
  root.append("div").attr("style",`position:absolute;left:1065.5px;top:${cy-7.5}px;width:15px;height:15px;box-sizing:border-box;border-radius:50%;background:${col.formatRgb()};border:1.5px solid ${col.formatRgb()}`);
  text(lab,1105,cy-8,17);
});
</script></body></html>
